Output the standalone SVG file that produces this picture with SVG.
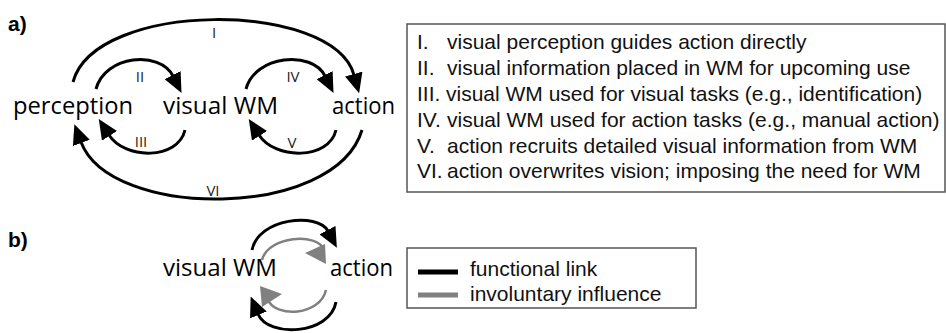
<svg xmlns="http://www.w3.org/2000/svg" width="946" height="333" viewBox="0 0 946 333">
  <style>
    .panel { font-family: "Liberation Sans", Arial, sans-serif; font-size: 21px; font-weight: bold; fill: #000; }
    .node { font-family: "Open Sans", "Noto Sans", sans-serif; font-size: 23px; fill: #000; }
    .tag { font-family: "Open Sans", "Noto Sans", sans-serif; font-size: 15px; fill: #222; text-anchor: middle; }
    .key { font-family: "Liberation Sans", Arial, sans-serif; font-size: 21px; fill: #111; }
    .box { fill: #fff; stroke: #555; stroke-width: 1.5; }
    .link { fill: none; stroke: #000; stroke-width: 3; }
    .soft { fill: none; stroke: #808080; stroke-width: 2.5; }
  </style>
  <defs>
    <marker id="head" viewBox="0 0 20 18" refX="1" refY="9" markerWidth="20" markerHeight="18" markerUnits="userSpaceOnUse" orient="auto">
      <path d="M0,0 L20,9 L0,18 z" fill="#000"/>
    </marker>
  </defs>

  <rect width="946" height="333" fill="#fff"/>

  <!-- panel letters -->
  <text class="panel" x="8" y="31">a)</text>
  <text class="panel" x="8" y="247">b)</text>

  <!-- panel a: nodes -->
  <g id="perception"><text class="node" x="13" y="114" textLength="120" lengthAdjust="spacingAndGlyphs">perception</text></g>
  <g id="visual-wm"><text class="node" x="163" y="114" textLength="115" lengthAdjust="spacingAndGlyphs">visual WM</text></g>
  <g id="action"><text class="node" x="332" y="114" textLength="63" lengthAdjust="spacingAndGlyphs">action</text></g>

  <!-- panel a: connectors -->
  <g id="connectors-a">
    <path class="link" d="M73,82 C95,0 333,0 354,75" marker-end="url(#head)"/>
    <path class="link" d="M96,89 C105,55 160,50 173,76" marker-end="url(#head)"/>
    <path class="link" d="M246,89 C255,55 312,50 325,76" marker-end="url(#head)"/>
    <path class="link" d="M185,130 C178,160 125,160 109,135" marker-end="url(#head)"/>
    <path class="link" d="M336,130 C329,160 275,160 259,135" marker-end="url(#head)"/>
    <path class="link" d="M362,130 C335,220 110,220 81,142" marker-end="url(#head)"/>
    <text class="tag" x="214" y="38">I</text>
    <text class="tag" x="140" y="82">II</text>
    <text class="tag" x="293" y="82">IV</text>
    <text class="tag" x="141" y="147">III</text>
    <text class="tag" x="292" y="148">V</text>
    <text class="tag" x="213" y="196">VI</text>
  </g>

  <!-- panel a: key -->
  <g id="key-a">
    <rect class="box" x="407" y="24" width="538" height="168"/>
    <text class="key" x="417" y="49">I.</text>
    <text class="key" x="447" y="49">visual perception guides action directly</text>
    <text class="key" x="417" y="75">II.</text>
    <text class="key" x="447" y="75">visual information placed in WM for upcoming use</text>
    <text class="key" x="417" y="101">III.</text>
    <text class="key" x="446" y="101">visual WM used for visual tasks (e.g., identification)</text>
    <text class="key" x="417" y="127">IV.</text>
    <text class="key" x="447" y="127">visual WM used for action tasks (e.g., manual action)</text>
    <text class="key" x="417" y="153">V.</text>
    <text class="key" x="447" y="153">action recruits detailed visual information from WM</text>
    <text class="key" x="417" y="178">VI.</text>
    <text class="key" x="447" y="178">action overwrites vision; imposing the need for WM</text>
  </g>

  <!-- panel b: nodes -->
  <g id="visual-wm-b"><text class="node" x="163" y="276" textLength="114" lengthAdjust="spacingAndGlyphs">visual WM</text></g>
  <g id="action-b"><text class="node" x="330" y="276" textLength="63" lengthAdjust="spacingAndGlyphs">action</text></g>

  <!-- panel b: connectors -->
  <g id="connectors-b">
    <path class="link" d="M252,250 C258,218 318,212 328,231" marker-end="url(#head)"/>
    <path class="soft" d="M262,260 C268,236 318,232 324,250"/>
    <polygon points="305,253 325,244 326,264" fill="#808080"/>
    <path class="soft" d="M326,290 C320,316 276,318 268,300"/>
    <polygon points="260,286 262,307 282,294" fill="#808080"/>
    <path class="link" d="M336,302 C330,335 268,338 258,314" marker-end="url(#head)"/>
  </g>

  <!-- panel b: key -->
  <g id="key-b">
    <rect class="box" x="407" y="248" width="289" height="60"/>
    <line x1="418" y1="272" x2="458" y2="272" stroke="#000" stroke-width="5"/>
    <text class="key" x="470" y="276">functional link</text>
    <line x1="418" y1="295" x2="458" y2="295" stroke="#808080" stroke-width="5"/>
    <text class="key" x="470" y="301">involuntary influence</text>
  </g>
</svg>
